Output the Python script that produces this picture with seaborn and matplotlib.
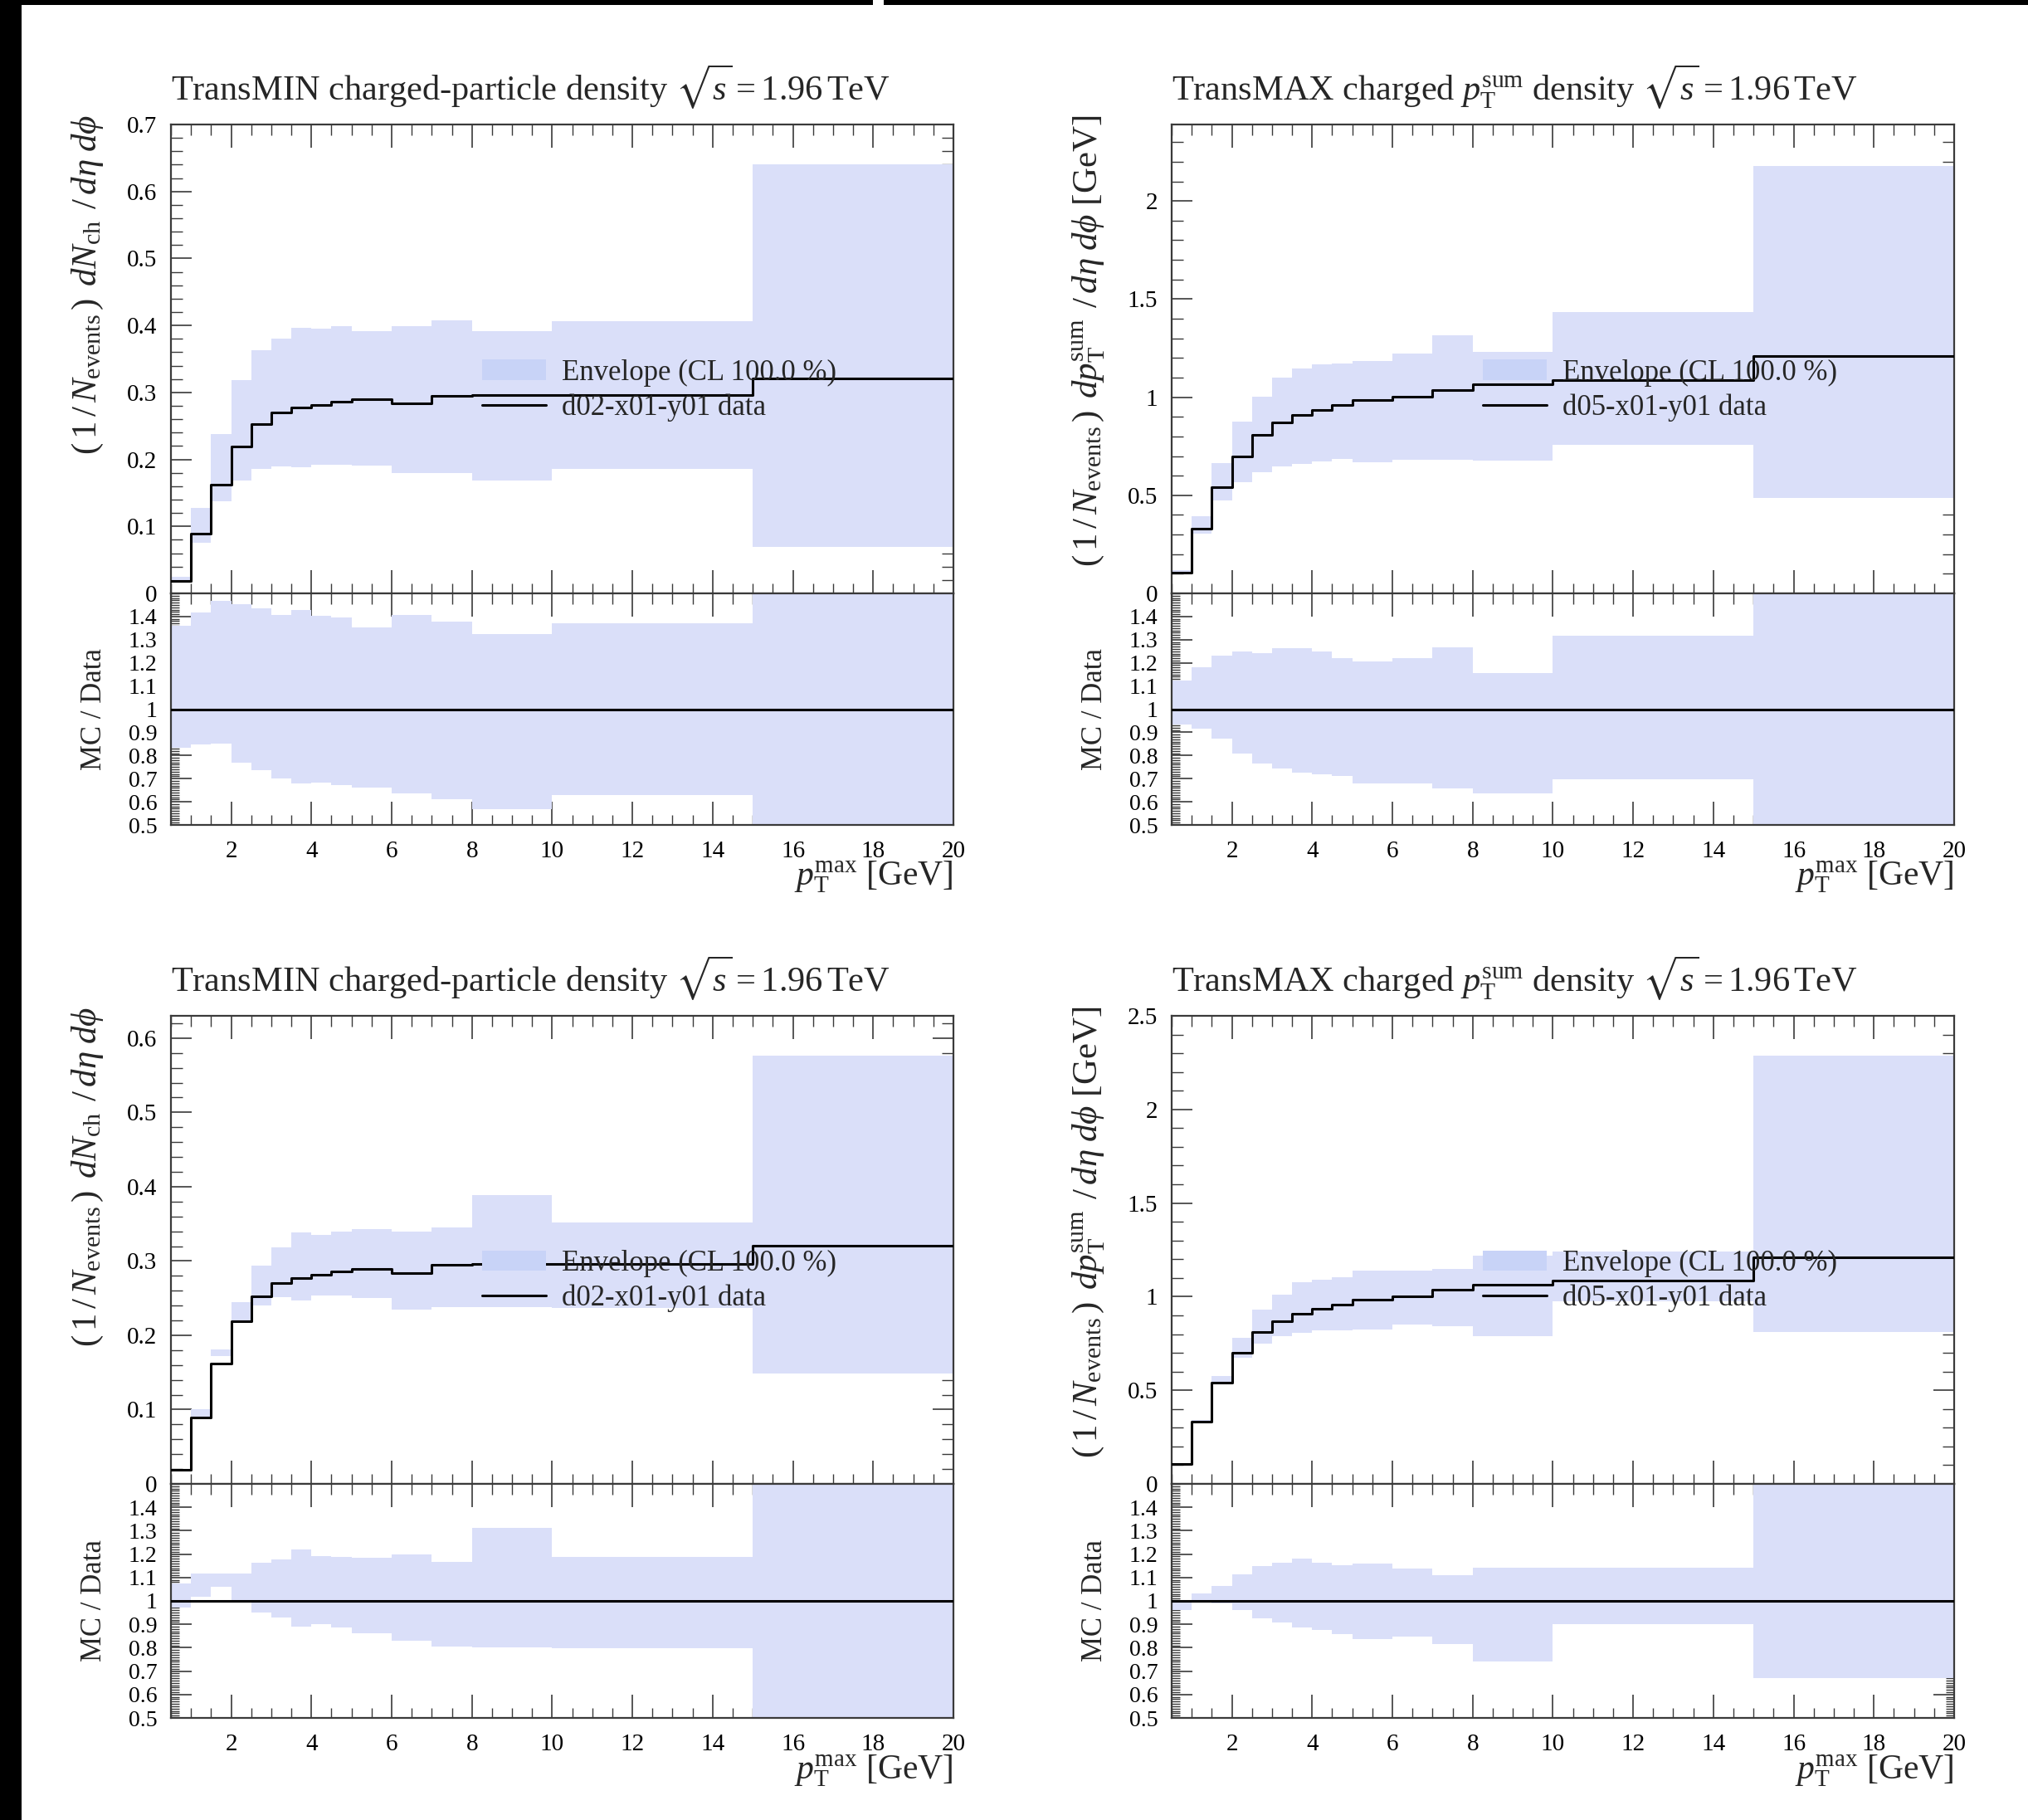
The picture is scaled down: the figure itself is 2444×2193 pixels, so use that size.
import numpy as np
import pandas as pd
import matplotlib
matplotlib.use("Agg")
import matplotlib.pyplot as plt
import seaborn as sns
from matplotlib.patches import Patch, Rectangle
from matplotlib.lines import Line2D
from matplotlib.ticker import MultipleLocator, FixedLocator, FuncFormatter

# ---------------- data ----------------
bin_edges = [0.5, 1.0, 1.5, 2.0, 2.5, 3.0, 3.5, 4.0, 4.5, 5.0, 6.0, 7.0, 8.0, 10.0, 15.0, 20.0]

density_data = [0.0186, 0.0895, 0.162, 0.219, 0.253, 0.270, 0.277, 0.2815, 0.286,
                0.2896, 0.2834, 0.2954, 0.2963, 0.296, 0.3207]
ptsum_data = [0.105, 0.332, 0.541, 0.700, 0.809, 0.870, 0.909, 0.935, 0.959,
              0.984, 1.003, 1.037, 1.065, 1.086, 1.211]

tl_env_up = [0.0253, 0.127, 0.238, 0.318, 0.363, 0.380, 0.396, 0.395, 0.399, 0.392, 0.399, 0.407, 0.392, 0.406, 0.641]
tl_env_lo = [0.0155, 0.076, 0.138, 0.168, 0.186, 0.189, 0.188, 0.192, 0.192, 0.191, 0.180, 0.180, 0.168, 0.186, 0.069]

tr_env_up = [0.118, 0.392, 0.666, 0.875, 1.004, 1.100, 1.148, 1.167, 1.171, 1.186, 1.223, 1.315, 1.230, 1.432, 2.178]
tr_env_lo = [0.098, 0.304, 0.472, 0.566, 0.619, 0.647, 0.659, 0.673, 0.684, 0.670, 0.680, 0.681, 0.678, 0.758, 0.486]

bl_env_up = [0.0200, 0.100, 0.181, 0.245, 0.294, 0.318, 0.338, 0.335, 0.340, 0.343, 0.340, 0.345, 0.389, 0.352, 0.576]
bl_env_lo = [0.0181, 0.091, 0.172, 0.218, 0.240, 0.251, 0.247, 0.254, 0.254, 0.250, 0.235, 0.238, 0.2375, 0.2365, 0.1485]

br_env_up = [0.1055, 0.343, 0.575, 0.779, 0.930, 1.012, 1.075, 1.089, 1.105, 1.140, 1.140, 1.150, 1.217, 1.240, 2.287]
br_env_lo = [0.101, 0.331, 0.536, 0.672, 0.750, 0.790, 0.805, 0.820, 0.822, 0.824, 0.851, 0.844, 0.790, 0.977, 0.810]

title_density = r"TransMIN charged-particle density $\sqrt{s}=1.96\,$TeV"
title_ptsum = r"TransMAX charged $p_\mathrm{T}^\mathrm{sum}$ density $\sqrt{s}=1.96\,$TeV"
ylabel_density = r"$(\,1\,/\,N_\mathrm{events}\,)\;\,dN_\mathrm{ch}\;\,/\,d\eta\;d\phi$"
ylabel_ptsum = r"$(\,1\,/\,N_\mathrm{events}\,)\;\,dp_\mathrm{T}^\mathrm{sum}\;\,/\,d\eta\;d\phi$ [GeV]"
xlabel_text = r"$p_\mathrm{T}^\mathrm{max}$ [GeV]"
ratio_label = "MC / Data"
env_label = "Envelope (CL 100.0 %)"
data_label_density = "d02-x01-y01 data"
data_label_ptsum = "d05-x01-y01 data"

# ---------------- style ----------------
sns.set_theme(style="ticks")
plt.rcParams["font.family"] = ["Liberation Serif", "DejaVu Serif"]
plt.rcParams["mathtext.fontset"] = "custom"
plt.rcParams["mathtext.rm"] = "Liberation Serif"
plt.rcParams["mathtext.it"] = "Liberation Serif:italic"
plt.rcParams["mathtext.bf"] = "Liberation Serif:bold"
plt.rcParams["mathtext.fallback"] = "stix"

ENV_COLOR = "#dadff9"
LEG_COLOR = "#c8d3f7"
SPINE_COLOR = "#3a3a3a"

W, H = 2444, 2193
fig = plt.figure(figsize=(W / 100, H / 100), dpi=100)
fig.patch.set_facecolor("white")

def fx(px):
    return px / W

def fy(py):
    return 1 - py / H

panels = [
    dict(left=206, top=150, zero=715, bottom=994, title=title_density, ylabel=ylabel_density,
         data=density_data, up=tl_env_up, lo=tl_env_lo, ymax=0.7, major=0.1, minor=0.02,
         dlabel=data_label_density),
    dict(left=1412, top=150, zero=715, bottom=994, title=title_ptsum, ylabel=ylabel_ptsum,
         data=ptsum_data, up=tr_env_up, lo=tr_env_lo, ymax=2.39, major=0.5, minor=0.1,
         dlabel=data_label_ptsum),
    dict(left=206, top=1224, zero=1788, bottom=2070, title=title_density, ylabel=ylabel_density,
         data=density_data, up=bl_env_up, lo=bl_env_lo, ymax=0.63, major=0.1, minor=0.02,
         dlabel=data_label_density),
    dict(left=1412, top=1224, zero=1788, bottom=2070, title=title_ptsum, ylabel=ylabel_ptsum,
         data=ptsum_data, up=br_env_up, lo=br_env_lo, ymax=2.5, major=0.5, minor=0.1,
         dlabel=data_label_ptsum),
]
AX_W = 943

fmt = FuncFormatter(lambda v, p: f"{v:g}")

def style_ticks(ax, ymaj_len, ymin_len):
    for s in ax.spines.values():
        s.set_color(SPINE_COLOR)
        s.set_linewidth(1.6)
    ax.tick_params(axis="both", which="both", direction="in", top=True, right=True,
                   colors=SPINE_COLOR, labelcolor="black")
    ax.tick_params(axis="x", which="major", length=20, width=1.2)
    ax.tick_params(axis="x", which="minor", length=9, width=1.0)
    ax.tick_params(axis="y", which="major", length=ymaj_len, width=1.2)
    ax.tick_params(axis="y", which="minor", length=ymin_len, width=1.0)
    ax.xaxis.set_major_locator(MultipleLocator(2))
    ax.xaxis.set_minor_locator(MultipleLocator(0.5))
    ax.set_xlim(0.5, 20)

edges = np.array(bin_edges)

for p in panels:
    data = np.array(p["data"])
    up = np.array(p["up"])
    lo = np.array(p["lo"])

    ax = fig.add_axes([fx(p["left"]), fy(p["zero"]), AX_W / W, (p["zero"] - p["top"]) / H])
    rax = fig.add_axes([fx(p["left"]), fy(p["bottom"]), AX_W / W, (p["bottom"] - p["zero"]) / H],
                       sharex=ax)

    # main panel
    ax.stairs(up, edges, baseline=lo, fill=True, color=ENV_COLOR, lw=0, zorder=1)
    step_df = pd.DataFrame({"x": edges, "y": np.append(data, data[-1])})
    sns.lineplot(data=step_df, x="x", y="y", drawstyle="steps-post", color="black",
                 lw=2.2, ax=ax, legend=False, zorder=3)
    style_ticks(ax, 18, 10)
    ax.set_ylim(0, p["ymax"])
    ax.yaxis.set_major_locator(MultipleLocator(p["major"]))
    ax.yaxis.set_minor_locator(MultipleLocator(p["minor"]))
    ax.yaxis.set_major_formatter(fmt)
    ax.tick_params(axis="x", labelbottom=False)
    ax.tick_params(axis="y", labelsize=21, pad=12)
    ax.set_xlabel("")
    ax.set_ylabel(p["ylabel"], fontsize=31)
    ax.yaxis.set_label_coords(-0.106, 1.02)
    ax.yaxis.label.set_va("center")
    ax.yaxis.label.set_ha("right")
    ax.set_title(p["title"], loc="left", fontsize=30.5, pad=21)

    handles = [Patch(facecolor=LEG_COLOR, edgecolor="none"),
               Line2D([], [], color="black", lw=2.2)]
    ax.legend(handles=handles, labels=[env_label, p["dlabel"]], loc="upper left",
              bbox_to_anchor=(0.398, 0.5), frameon=False, fontsize=25,
              handlelength=2.2, handletextpad=0.55, labelspacing=0.25,
              borderpad=0, borderaxespad=0)

    # ratio panel
    rax.stairs(up / data, edges, baseline=lo / data, fill=True, color=ENV_COLOR, lw=0, zorder=1)
    rax.axhline(1.0, color="black", lw=2.2, zorder=3)
    style_ticks(rax, 18, 7)
    rax.set_ylim(0.5, 1.5)
    rax.yaxis.set_major_locator(FixedLocator([0.5, 0.6, 0.7, 0.8, 0.9, 1.0, 1.1, 1.2, 1.3, 1.4]))
    rax.yaxis.set_minor_locator(MultipleLocator(0.01))
    rax.yaxis.set_major_formatter(fmt)
    rax.tick_params(axis="y", labelsize=20, pad=12)
    rax.tick_params(axis="x", labelsize=21, pad=14)
    rax.set_ylabel(ratio_label, fontsize=25)
    rax.yaxis.set_label_coords(-0.0976, 0.5)
    rax.yaxis.label.set_va("center")
    rax.set_xlabel(xlabel_text, fontsize=30)
    rax.xaxis.set_label_coords(1.0, -0.226)
    rax.xaxis.label.set_ha("right")
    rax.xaxis.label.set_va("center")

# black frame pieces
fig.add_artist(Rectangle((0, fy(6)), 1, 6 / H, transform=fig.transFigure,
                         facecolor="black", edgecolor="none", zorder=10))
fig.add_artist(Rectangle((fx(1052), fy(6)), 13 / W, 6 / H, transform=fig.transFigure,
                         facecolor="white", edgecolor="none", zorder=11))
fig.add_artist(Rectangle((0, 0), 26 / W, 1, transform=fig.transFigure,
                         facecolor="black", edgecolor="none", zorder=10))

fig.savefig("out.png", dpi=100)
